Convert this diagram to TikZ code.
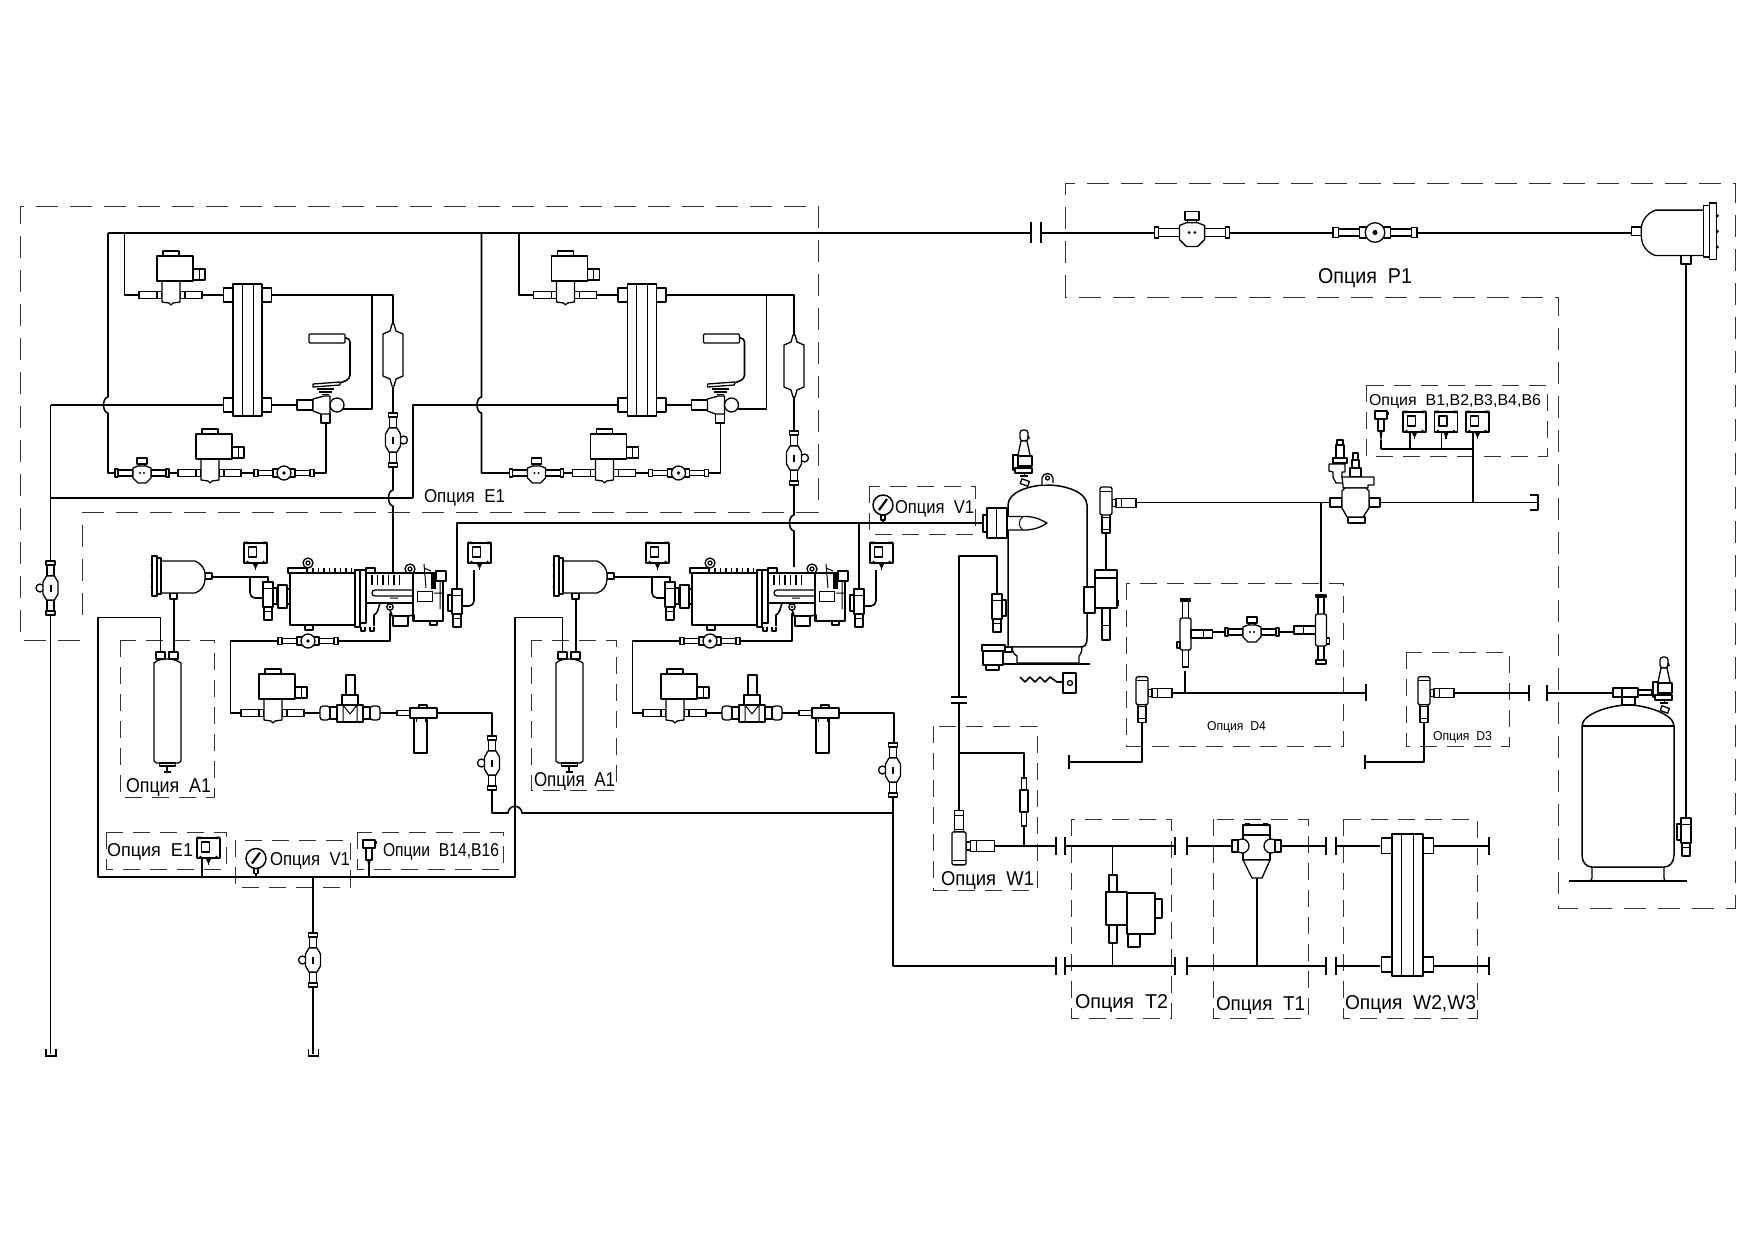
\documentclass[tikz,border=0pt]{standalone}
\usepackage{fontspec}
\setmainfont{Liberation Sans}
\usetikzlibrary{calc}
\tikzset{
  pipe/.style={line width=1.6pt,line join=round},
  heavy/.style={line width=2.1pt,line join=round},
  part/.style={draw=black,fill=white,line width=1.3pt,line join=round},
  thin part/.style={draw=black,line width=1pt,line join=round},
  bigdash/.style={draw=black!80,line width=1pt,dash pattern=on 22pt off 12pt},
  smalldash/.style={draw=black!80,line width=1pt,dash pattern=on 17pt off 10pt},
  optlabel/.style={anchor=base west,inner sep=0pt,outer sep=0pt,text=black,font=\fontsize{20}{24}\selectfont},
  sightH/.pic={
    \path[part] (-30,-3.5) rectangle (-26,3.5) (26,-3.5) rectangle (30,3.5)
      (-26,-2.5) rectangle (-11,2.5) (11,-2.5) rectangle (26,2.5)
      (-11,-4) rectangle (-6,4) (6,-4) rectangle (11,4);
    \path[part] (0,0) circle (7);
    \fill (0,0) circle (1.8);
  },
  sightV/.pic={
    \path[part] (10.5,0) circle (4);
    \path[part] (-4.5,-27) rectangle (4.5,-23) (-3.5,-23) rectangle (3.5,-12)
      (-4.5,27) rectangle (4.5,23) (-3.5,23) rectangle (3.5,12);
    \path[part] (-4,-12)--(4,-12)--(7.5,-6)--(7.5,6)--(4,12)--(-4,12)--(-7.5,6)--(-7.5,-6)--cycle;
    \fill (-1,-3.5) rectangle (1,3.5);
  },
  ballValve/.pic={
    \path[part] (-27,-4) rectangle (-24,4) (24,-4) rectangle (27,4)
      (-24,-3) rectangle (-9,3) (9,-3) rectangle (24,3);
    \path[part] (-3,-9) rectangle (3,-5);
    \path[part] (-5,-15) rectangle (5,-9);
    \path[part] (-9,-5)--(-4,-7)--(4,-7)--(9,-5)--(9,5)--(4,10)--(-4,10)--(-9,5)--cycle;
    \fill (-2,0) circle (1.1) (2,0) circle (1.1);
  },
  solenoidV/.pic={
    \path[part] (-32,-3.5) rectangle (-9,3.5) (9,-3.5) rectangle (31,3.5);
    \path[part] (-14,-3.5) rectangle (-9,3.5) (9,-3.5) rectangle (14,3.5);
    \path[part] (-9,-14)--(9,-14)--(9,7)--(2,8)--(0,10)--(-2,8)--(-9,7)--cycle;
    \path[part] (-8,-44) rectangle (8,-39);
    \path[part] (22,-26) rectangle (34,-15);
    \draw[thin part] (28,-26)--(28,-15);
    \path[part] (-14,-39) rectangle (22,-14);
  },
  hxPlate/.pic={
    \path[part] (-24,-62) rectangle (-14.5,-48) (14.5,-62) rectangle (24,-48)
      (-24,48) rectangle (-14.5,62) (14.5,48) rectangle (24,62);
    \path[part,line width=1.6pt] (-14.5,-66) rectangle (14.5,66);
    \draw[thin part] (-5.5,-66)--(-5.5,66) (5.5,-66)--(5.5,66);
  },
  dryerV/.pic={
    \path[part] (-10,-21)--(-3,-24)--(-1,-31)--(1,-31)--(3,-24)--(10,-21)--(10,21)--(3,24)--(1,31)--(-1,31)--(-3,24)--(-10,21)--cycle;
  },
  txValve/.pic={
    \draw[pipe,rounded corners=4pt] (19,-67)--(24,-67)--(24,-26)--(14,-22);
    \path[part,rounded corners=1pt] (-17,-71) rectangle (19,-62);
    \path[part] (-13,-21)--(14,-23)--(14,-20)--(-13,-18)--cycle;
    \draw[line width=1.4pt] (-9,-16)--(8,-16) (-7,-13)--(6,-13) (-4,-10.5)--(3,-10.5);
    \path[part] (-29,-5) rectangle (-13,5);
    \path[part] (-5,8) rectangle (4,18);
    \path[part] (-13,-6)--(-2,-9)--(4,-9)--(4,9)--(-5,9)--(-13,6)--cycle;
    \path[part] (11,0) circle (7);
  },
  compressorU/.pic={
    \path[part] (-12,12) rectangle (-3,35);
    \path[part] (-3,16) rectangle (0,31);
    \path[part] (-2,-5) rectangle (17,0);
    \path[part] (18,-10) circle (5); \path[part] (18,-10) circle (2);
    \foreach \q in {23,28.5,...,64} {\draw[line width=1.7pt] (\q,-5)--(\q,-1);}
    \path[part,line width=1.6pt] (0,0) rectangle (65,52);
    \path[part] (15,52) rectangle (23,57);
    \path[part] (65,-3) rectangle (70,54);
    \path[part] (70,-3) rectangle (76,50);
    \path[part] (76,-5) rectangle (85,0);
    \path[part] (120,-4) circle (5); \path[part] (120,-4) circle (2);
    \path[part] (76,0) rectangle (123,30);
    \foreach \q in {82,87.5,...,110} {\draw[line width=1.7pt] (\q,2)--(\q,12);}
    \path[part,rounded corners=3pt] (82,17) rectangle (125,23);
    \path[part] (123,0) rectangle (153,48);
    \path[draw=black,fill=white,line width=.9pt] (127,18) rectangle (142,28);
    \fill (141,1) rectangle (146,16);
    \path[part] (146,-2) rectangle (156,8);
    \draw[thin part] (150,8)--(150,36) (134,-9)--(136,15) (134,-5)--(141,-2) (144,20)--(152,20) (100,25)--(108,25);
    \path[part] (140,48) rectangle (147,52);
    \draw[pipe] (76,30)--(90,30) .. controls (88,36) and (88,40) .. (84,42) -- (84,53);
    \draw[pipe] (71,54)--(71,58)--(75,58)--(75,54) (80,54)--(80,58)--(84,58)--(84,54);
    \path[part] (103,43) rectangle (118,53);
    \draw[pipe] (118,43)--(124,42)--(124,48);
    \draw[pipe] (100,37)--(103,45);
    \path[part] (100,34) circle (3.2);
    \fill (100,34) circle (1.4);
  },
  valveChk/.pic={
    \path[part] (5,6) rectangle (9,22);
    \path[part] (-5,0) rectangle (5,25);
    \draw[thin part] (-5,6)--(5,6);
    \path[part] (-4,25) rectangle (4,38);
    \draw[thin part] (-4,29)--(4,29);
  },
  oilSep/.pic={
    \path[part] (54,17) rectangle (61,23);
    \path[part] (19,37) rectangle (26,43);
    \path[part] (10,5)--(44,5) .. controls (50,7) and (54,13) .. (54,18)--(54,23) .. controls (54,30) and (50,35) .. (44,37)--(10,37)--cycle;
    \path[part] (6,2) rectangle (10,38);
    \path[part] (1,0) rectangle (6,40);
    \fill (0.5,9) circle (1.2) (0.5,20) circle (1.2) (0.5,31) circle (1.2);
  },
  filterA/.pic={
    \path[part] (-11.5,0) rectangle (-2.5,7) (1.5,0) rectangle (10.5,7);
    \path[part] (-13.5,11) .. controls (-10,8) and (-6,7) .. (-0.5,7) .. controls (5,7) and (9,8) .. (13.5,11)--(13.5,109)--(11,111)--(-11,111)--(-13.5,109)--cycle;
    \path[part] (-8,111) rectangle (8,114);
    \draw[pipe] (-0.5,114)--(-0.5,120) (-4,120)--(3,120);
  },
  stopValve/.pic={
    \path[part] (-4,-38) rectangle (5,-18);
    \path[part] (-8,-18) rectangle (8,-8);
    \path[part,rounded corners=3pt] (-30,-7) rectangle (-20,7);
    \path[part] (-20,-6) rectangle (-13,6);
    \path[part,rounded corners=3pt] (20,-7) rectangle (30,7);
    \path[part] (13,-6) rectangle (20,6);
    \path[part] (-13,-8) rectangle (13,9);
    \draw[thin part] (-7,-8)--(0,1)--(7,-8) (-7,-8)--(-7,9) (7,-8)--(7,9);
  },
  filterHousing/.pic={
    \path[part] (0,-2.5) rectangle (15,2.5);
    \path[part] (17,5) rectangle (30,40);
    \path[part] (22,-8) rectangle (30,-5);
    \path[part] (13,-5) rectangle (40,5);
    \draw[thin part] (19,5)--(19,9) (28,5)--(28,9);
  },
  switchP/.pic={
    \draw[line width=1.3pt] (0,10)--(0,17);
    \fill (-3,10)--(3,10)--(0,16)--cycle;
    \path[part,line width=1.7pt] (-11.5,-10) rectangle (11.5,10);
    \path[part] (-7,-6) rectangle (1,4);
    \fill (-11.5,-11.5) rectangle (-7,-9) (7,-11.5) rectangle (11.5,-9);
    \fill (-8,9) circle (1.3) (8,9) circle (1.3);
  },
  sensorT/.pic={
    \path[part] (-6,0) rectangle (6,8);
    \path[part] (-3,8) rectangle (3,20);
    \draw[line width=1.2pt] (-1,20)--(0,28)--(1,20);
    \fill (6,1) rectangle (7.5,4);
  },
  gaugeP/.pic={
    \path[part] (-2,10) rectangle (2,15);
    \path[part,line width=1.5pt] (0,0) circle (10);
    \draw[line width=2.2pt] (-4,5)--(4,-6);
  },
  teeV/.pic={
    \path[part] (10,-4.5) rectangle (30,4.5);
    \draw[thin part] (15,-4.5)--(15,4.5);
    \path[part] (6,-3.5) rectangle (10,3.5);
    \path[part] (-4,10) rectangle (4,30);
    \draw[thin part] (-4,14)--(4,14) (-4,26)--(4,26);
    \path[part,rounded corners=2pt] (-6,-16) rectangle (6,12);
    \draw[thin part] (-6,-12)--(6,-12);
  },
  teeTube/.pic={
    \path[part] (-3,-33) rectangle (3,33);
    \path[part,rounded corners=2pt] (-5.5,-16) rectangle (5.5,16);
    \path[part] (-5,-35) rectangle (5,-33);
    \path[part] (5.5,-4) rectangle (27,4);
    \draw[thin part] (18,-4)--(18,4);
    \path[part] (-8.5,8) rectangle (-5.5,14);
  },
  safetyV/.pic={
    \path[part,rounded corners=3pt] (-4,-40) rectangle (4,-29);
    \draw[line width=1.8pt] (4,-34)--(5,-31);
    \path[part] (-3,-29)--(3,-29)--(6,-15)--(6,-14)--(-6,-14)--(-6,-15)--cycle;
    \path[part] (-6,-14) rectangle (8,-4);
    \path[part] (-11,-15) rectangle (-6,0);
    \path[part] (-9,-2) rectangle (8,3);
    \draw[line width=1.5pt] (-4,6)--(4,6);
    \draw[thin part] (0,3)--(0,6);
    \path[part,rotate around={-20:(1,12)}] (-3,10) rectangle (5,15);
  },
  zigzag/.pic={
    \draw[pipe] (0,0)--(5,5)--(10,0)--(15,5)--(20,0)--(25,5)--(30,0)--(37,5)--(42,5);
    \path[part] (43,-4) rectangle (56,16);
    \path[part] (50,6) circle (2.5);
  },
}
\newcommand{\opt}[6]{\node[optlabel] (#1) at (#2,#3) {\resizebox{#4pt}{#5pt}{#6}};}
% upper economiser group
\newcommand{\ecoGroup}[1]{%
  \begin{scope}[xshift=#1pt]
    \draw[pipe] (271,295)--(372,295)--(372,409)--(343,409);
    \draw[pipe] (202,295)--(223,295);
    \draw[pipe] (271,405)--(297,405);
    \draw[pipe] (326,423)--(326,473)--(314,473);
    \draw[pipe] (168,473)--(179,473) (241,473)--(254,473);
    \pic at (171,295) {solenoidV};
    \pic at (247.5,350) {hxPlate};
    \pic at (326,405) {txValve};
    \pic at (142,473) {ballValve};
    \pic at (210,473) {solenoidV};
    \pic at (284,473) {sightH};
  \end{scope}}
% lower compressor group
\newcommand{\compGroup}[2]{%
  \begin{scope}[xshift=#1pt]
    \draw[pipe] (212,577)--(268,577)--(268,582);
    \draw[pipe,rounded corners=5pt] (250,577)--(250,598)--(263,598);
    \draw[pipe] (174,599)--(174,652);
    \draw[pipe] (279,641)--(230.6,641)--(230.6,713)--(242,713);
    \draw[pipe] (338,641)--(390,641)--(390,613);
    \draw[pipe] (305,713)--(320,713) (380,713)--(397,713);
    \draw[pipe] (437,713)--(492,713)--(492,#2);
    \draw[pipe,rounded corners=5pt] (474,570)--(474,606)--(462,606);
    \pic at (151,556) {oilSep};
    \pic at (255.5,553) {switchP};
    \pic at (268,582) {valveChk};
    \pic at (290,573) {compressorU};
    \pic[xscale=-1] at (457,589) {valveChk};
    \pic at (479.5,553) {switchP};
    \pic at (308,641) {sightH};
    \pic at (273,713) {solenoidV};
    \pic at (350,713) {stopValve};
    \pic at (397,713) {filterHousing};
    \pic at (167.5,652) {filterA};
  \end{scope}}
\begin{document}
\begin{tikzpicture}[x=1pt,y=-1pt]
\useasboundingbox (0,0) rectangle (1754,1240);
\fill[white] (0,0) rectangle (1754,1240);
% ---------- dashed option boxes
\draw[bigdash] (80,640)--(20,640)--(20,206)--(818,206)--(818,512)--(82.5,512)--(82.5,625);
\draw[bigdash] (1065,297)--(1065,183)--(1735,183)--(1735,908)--(1558,908)--(1558,297)--cycle;
\draw[smalldash] (120,640) rectangle (214,797);
\draw[smalldash] (531,640) rectangle (616,790);
\draw[smalldash] (106,832) rectangle (226,869);
\draw[smalldash] (235,840) rectangle (350,887);
\draw[smalldash] (357,832) rectangle (503,869);
\draw[smalldash] (869,486) rectangle (975,534);
\draw[smalldash] (1366,385) rectangle (1547,456);
\draw[smalldash] (1126,583) rectangle (1343,746);
\draw[smalldash] (1406,652) rectangle (1509,746);
\draw[smalldash] (933,726) rectangle (1037,890);
\draw[smalldash] (1071.5,819) rectangle (1171,1018);
\draw[smalldash] (1213,819) rectangle (1308,1018);
\draw[smalldash] (1343,819) rectangle (1477,1018);
% ---------- main pipes
\draw[heavy] (108,233)--(1031,233) (1041,233)--(1154,233);
\draw[pipe] (1229,233)--(1333,233) (1418,233)--(1632,233);
\draw[pipe] (1031,222)--(1031,243) (1041,222)--(1041,243);
\draw[pipe] (108,233)--(108,397) .. controls (102,398) and (102,412) .. (108,413)--(108,473)--(115,473);
\draw[pipe] (124.6,233)--(124.6,295)--(139,295);
\draw[pipe] (481.5,233)--(481.5,397) .. controls (475.5,398) and (475.5,412) .. (481.5,413)--(481.5,473)--(509.5,473);
\draw[pipe] (519,233)--(519,295)--(533.5,295);
\draw[pipe] (50.5,405)--(223,405);
\draw[pipe] (50.5,405)--(50.5,1054);
\draw[heavy] (50.5,498)--(413,498);
\draw[pipe] (413,498)--(413,405)--(617.5,405);
\draw[line width=1.8pt] (46,1049)--(46,1056)--(56,1056)--(56,1049);
% dryer lines
\draw[pipe] (372,295)--(393,295)--(393,324) (393,387)--(393,413) (393,467)--(393,490) .. controls (387,491) and (387,505) .. (393,506)--(393,573);
\draw[pipe] (665.5,295)--(794,295)--(794,335) (794,397)--(794,431) (794,485)--(794,515) .. controls (788,516) and (788,530) .. (794,531)--(794,567);
% hot gas line
\draw[pipe] (457,590)--(457,523)--(985,523);
\draw[pipe] (859,523)--(859,590);
\draw[pipe] (883,515)--(883,523);
% oil return
\draw[pipe] (160.5,652)--(160.5,617.5)--(98,617.5)--(98,877)--(515,877)--(515,617.5)--(562.5,617.5)--(562.5,652);
% liquid return
\draw[pipe] (492,789)--(492,813)--(508,813) .. controls (509,804) and (521,804) .. (522,813)--(893,813);
\draw[pipe] (893,797)--(893,966)--(1056,966);
% drop pipes
\draw[pipe] (313,877)--(313,1054);
\draw[line width=1.8pt] (308.5,1049)--(308.5,1056)--(318.5,1056)--(318.5,1049);
\draw[pipe] (202,858)--(202,877) (369,860)--(369,877) (256,870)--(256,877);
% right side
\draw[pipe] (1135,502.5)--(1538,502.5);
\draw[pipe] (1530,495)--(1538,495)--(1538,510)--(1530,510);
\draw[pipe] (1473,432)--(1473,502.5);
\draw[pipe] (1381,449)--(1473,449) (1381,440)--(1381,449) (1410,432)--(1410,449) (1441.5,432)--(1441.5,449);
\draw[pipe] (1321,502.5)--(1321,592);
\draw[pipe] (1106,533)--(1106,570);
\draw[pipe] (997,594)--(997,556)--(959,556)--(959,697);
\draw[pipe] (951,697)--(967,697) (951,703)--(967,703);
\draw[pipe] (959,703)--(959,811);
\draw[pipe] (959,753)--(1024,753)--(1024,846);
\draw[pipe] (994,846)--(1056,846);
\draw[pipe] (1056,837)--(1056,855) (1065,837)--(1065,855) (1175,837)--(1175,855) (1187,837)--(1187,855) (1326,837)--(1326,855) (1336,837)--(1336,855) (1489,837)--(1489,855);
\draw[pipe] (1056,957)--(1056,975) (1065,957)--(1065,975) (1175,957)--(1175,975) (1187,957)--(1187,975) (1326,957)--(1326,975) (1336,957)--(1336,975) (1489,957)--(1489,975);
\draw[pipe] (1065,846)--(1175,846) (1187,846)--(1232,846) (1281,846)--(1326,846) (1336,846)--(1380,846) (1433,846)--(1489,846);
\draw[pipe] (1065,966)--(1175,966) (1187,966)--(1326,966) (1336,966)--(1380,966) (1433,966)--(1489,966);
\draw[pipe] (1112.6,846)--(1112.6,966);
\draw[pipe] (1257,878)--(1257,966);
\draw[pipe] (1172,692.7)--(1366,692.7) (1366,684)--(1366,701);
\draw[pipe] (1185,671)--(1185,692.7);
\draw[pipe] (1212,632)--(1226,632) (1280,632)--(1293,632);
\draw[pipe] (1142,723)--(1142,762)--(1069,762) (1069,755)--(1069,769);
\draw[pipe] (1455,692.7)--(1529,692.7) (1529,685)--(1529,701);
\draw[pipe] (1424,723)--(1424,762)--(1365,762) (1365,755)--(1365,769);
\draw[pipe] (1547,685)--(1547,701) (1547,692.7)--(1614,692.7);
\draw[pipe] (1686,265)--(1686,818);
% ---------- repeated groups
\ecoGroup{0}
\ecoGroup{394.5}
\compGroup{0}{736}
\compGroup{402}{742}
% ---------- dryers + glasses
\pic at (393,355) {dryerV};
\pic at (393,440) {sightV};
\pic at (794,366) {dryerV};
\pic at (794,458) {sightV};
\pic[xscale=-1] at (50.5,588) {sightV};
\pic[xscale=-1] at (492,763) {sightV};
\pic[xscale=-1] at (893,770) {sightV};
\pic[xscale=-1] at (313,960) {sightV};
% ---------- option instruments
\pic at (208.5,848) {switchP};
\pic at (369,840) {sensorT};
\pic at (256,858.5) {gaugeP};
\pic at (883,505) {gaugeP};
% ---------- P1
\pic[scale=1.4] at (1192,232.5) {ballValve};
\pic[scale=1.4] at (1375,232.5) {sightH};
\pic[xscale=-1.42,yscale=1.42] at (1718,203) {oilSep};
% ---------- receiver
\path[part,line width=1.5pt] (1008,647)--(1008,505) .. controls (1008,492) and (1030,485) .. (1047,485) .. controls (1065,485) and (1087,492) .. (1087,505)--(1087,638) .. controls (1087,645) and (1085,647) .. (1080,647)--cycle;
\path[part] (1012,647)--(1082,647) .. controls (1082,652) and (1080,655) .. (1079,656)--(1079,663)--(1017,663)--(1017,656) .. controls (1015,655) and (1012,652) .. (1012,647)--cycle;
\draw[line width=2pt] (1003,664)--(1090,664);
\path[part] (1004,647) rectangle (1012,652);
\path[part] (982,645) rectangle (1005,651);
\path[part] (983,651) rectangle (1003,665);
\path[part] (986,665) rectangle (999,670);
\path[part] (1007,516.5)--(1027,516.5) .. controls (1037,517) and (1043,521) .. (1047,523) .. controls (1043,526) and (1037,529) .. (1027,530)--(1007,530)--cycle;
\draw[thin part] (1023,516.5) .. controls (1018,520) and (1018,527) .. (1023,530);
\path[part] (983,515) rectangle (987,532);
\path[part] (987,508) rectangle (1007,538);
\draw[thin part] (996,508)--(996,538);
\path[part] (1042,485)--(1042,478) .. controls (1043,472) and (1052,472) .. (1053,478)--(1053,483);
\path[part] (1047.5,478) circle (2);
\pic at (1024,470) {safetyV};
\pic at (1106,503) {teeV};
% receiver lower valve
\path[part] (1084,587) rectangle (1095,613);
\path[part] (1095,570) rectangle (1117,578);
\path[part] (1095,578) rectangle (1117,608);
\path[part] (1102,608) rectangle (1110,640);
\draw[thin part] (1102,625)--(1110,625);
\fill (1117,600) rectangle (1119,606);
\pic at (997,594) {valveChk};
\pic at (1020,677) {zigzag};
% ---------- main valve
\path[part] (1337,440) rectangle (1343,445);
\path[part] (1336,445) rectangle (1344,458);
\path[part] (1333,458) rectangle (1347,463);
\path[part] (1329,464)--(1345,464)--(1345,472)--(1342,472)--(1342,477)--(1346,483)--(1336,483)--(1333,477)--(1333,472)--(1329,471)--cycle;
\path[part] (1353,453) rectangle (1358,460);
\path[part] (1352,460) rectangle (1359,468);
\path[part] (1350,468) rectangle (1361,477);
\path[part] (1342,477)--(1374,477)--(1374,485)--(1368,485)--(1368,488)--(1343,488)--(1343,485)--(1342,477)--cycle;
\path[part] (1330,498) rectangle (1342,507);
\path[part] (1369,498) rectangle (1380,507);
\path[part] (1348,517) rectangle (1365,523);
\path[part] (1342,491)--(1345,488)--(1366,488)--(1369,491)--(1369,508)--(1363,517)--(1347,517)--(1342,508)--cycle;
% ---------- B switches
\pic at (1381,411) {sensorT};
\pic at (1414.5,422) {switchP};
\pic at (1446,422) {switchP};
\pic at (1477.5,422) {switchP};
% ---------- D4
\pic at (1142,692.7) {teeV};
\pic at (1424,692.7) {teeV};
\pic at (1185.5,634) {teeTube};
\pic[xscale=-1] at (1321,630) {teeTube};
\path[part] (1316,660) rectangle (1326,664);
\pic at (1252,632) {ballValve};
% ---------- W1, T2, T1, W2
\pic[xscale=1.18,yscale=-1.18] at (959,846) {teeV};
\path[part] (1021.5,778) rectangle (1026.5,826);
\path[part] (1020,790) rectangle (1028,812);
\path[part] (1109,875) rectangle (1117,943);
\path[part] (1128,934) rectangle (1140,947);
\path[part] (1106,892) rectangle (1127,925);
\path[part] (1155,899) rectangle (1162,918);
\path[part] (1127,893) rectangle (1155,934);
% strainer
\path[part] (1243,825) rectangle (1270,835);
\fill (1245,823) rectangle (1250,826) (1263,823) rectangle (1268,826);
\path[part] (1243,835) rectangle (1270,860);
\path[part] (1243,860)--(1270,860)--(1262,878)--(1252,878)--cycle;
\path[part] (1242,846) circle (7);
\path[part] (1271,846) circle (7);
\path[part] (1232,840) rectangle (1238,852);
\path[part] (1275,840) rectangle (1281,852);
\pic[scale=1.08] at (1407.5,905) {hxPlate};
% ---------- tank
\path[part] (1592,867)--(1592,878) .. controls (1592,880) and (1590,881) .. (1589,881)--(1666,881) .. controls (1665,881) and (1664,880) .. (1664,878)--(1664,867)--cycle;
\path[part,line width=1.5pt] (1582,726) .. controls (1582,714) and (1610,705) .. (1628,705) .. controls (1646,705) and (1674,714) .. (1674,726)--(1674,855) .. controls (1674,862) and (1670,867) .. (1664,867)--(1592,867) .. controls (1586,867) and (1582,862) .. (1582,855)--cycle;
\draw[pipe] (1582,726)--(1674,726);
\draw[line width=2pt] (1569,881)--(1687,881);
\path[part] (1622,697) rectangle (1635,705);
\path[part] (1613,688) rectangle (1622,697);
\path[part] (1622,688) rectangle (1638,697);
\path[part] (1638,690) rectangle (1652,695);
\pic at (1664,697) {safetyV};
\pic[xscale=-1] at (1686,818) {valveChk};
% ---------- labels
\opt{lP}{1318}{283}{94}{15}{Опция~~P1}
\opt{lEa}{424}{502}{81}{13}{Опция~~E1}
\opt{lAa}{126}{792}{85}{14}{Опция~~A1}
\opt{lAb}{534}{786}{81}{14}{Опция~~A1}
\opt{lEb}{107}{856}{86}{13}{Опция~~E1}
\opt{lVa}{270}{865}{80}{13}{Опция~~V1}
\opt{lB}{383}{856}{116}{13}{Опции~~B14,B16}
\opt{lVb}{895}{513}{79}{13}{Опция~~V1}
\opt{lBB}{1369}{405}{172}{11}{Опция~~B1,B2,B3,B4,B6}
\opt{lDa}{1207}{730}{59}{9}{Опция~~D4}
\opt{lDb}{1433}{740}{59}{9}{Опция~~D3}
\opt{lW}{941}{885}{93}{14}{Опция~~W1}
\opt{lTb}{1075}{1008}{93}{14}{Опция~~T2}
\opt{lTa}{1216}{1010}{89}{14}{Опция~~T1}
\opt{lWW}{1345}{1009}{131}{14}{Опция~~W2,W3}
\end{tikzpicture}
\end{document}
